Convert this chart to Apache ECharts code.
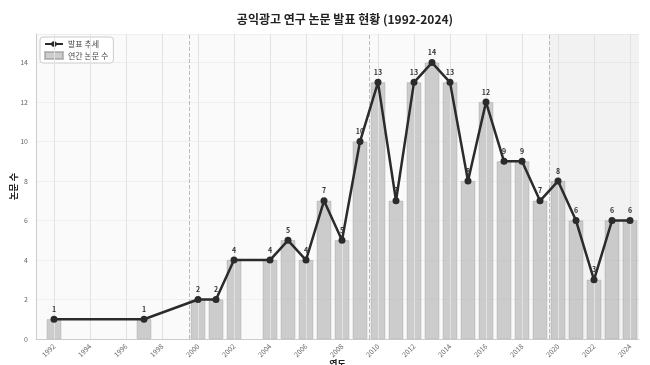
<!DOCTYPE html>
<html><head><meta charset="utf-8">
<script src="https://cdn.jsdelivr.net/npm/echarts@6/dist/echarts.min.js"></script>
<style>html,body{margin:0;padding:0;background:#fff}#c{width:650px;height:365px}</style>
</head><body><div id="c"></div>
<script>
const years = [1992,1997,2000,2001,2002,2004,2005,2006,2007,2008,2009,2010,2011,2012,2013,2014,2015,2016,2017,2018,2019,2020,2021,2022,2023,2024];
const counts = [1,1,2,2,4,4,5,4,7,5,10,13,7,13,14,13,8,12,9,9,7,8,6,3,6,6];
const decadeBreaks = [1999.5, 2009.5, 2019.5];
const xTicks = [1992,1994,1996,1998,2000,2002,2004,2006,2008,2010,2012,2014,2016,2018,2020,2022,2024];
const yTicks = [0,2,4,6,8,10,12,14];

const pts = years.map((y,i)=>[y,counts[i]]);
const font = '"Noto Sans CJK KR", "Noto Sans", sans-serif';
const chart = echarts.init(document.getElementById('c'));
chart.setOption({
  animation:false,
  textStyle:{fontFamily:font},
  title:{text:'공익광고 연구 논문 발표 현황 (1992-2024)',left:340,top:8,textAlign:'center',
    textStyle:{fontSize:12,fontWeight:'bold',color:'#222',fontFamily:font}},
  legend:{left:40,top:37,orient:'vertical',itemGap:3,itemWidth:18,itemHeight:7,
    backgroundColor:'rgba(255,255,255,0.9)',borderColor:'#ccc',borderWidth:1,borderRadius:3,padding:[3,5,3,4],
    textStyle:{fontSize:8,color:'#444'},
    data:[{name:'발표 추세'},{name:'연간 논문 수',icon:'rect'}]},
  grid:{left:36,right:11,top:34,bottom:26,backgroundColor:'#fafafa',show:true,borderWidth:0,
    containLabel:false,outerBoundsMode:'none'},
  xAxis:{type:'value',min:1991,max:2024.5,
    name:'연도',nameLocation:'middle',nameGap:20,nameMoveOverlap:false,nameTextStyle:{fontSize:9,fontWeight:'bold',color:'#222',verticalAlign:'top'},
    axisLine:{show:true,lineStyle:{color:'#ccc'}},axisTick:{show:false,customValues:xTicks},
    axisLabel:{rotate:45,fontSize:7,color:'#666',margin:6,customValues:xTicks,formatter:v=>String(v)},
    splitLine:{show:false}},
  yAxis:{type:'value',min:0,max:15.45,interval:2,
    name:'논문 수',nameLocation:'middle',nameGap:18,nameMoveOverlap:false,nameRotate:90,nameTextStyle:{fontSize:9,fontWeight:'bold',color:'#222'},
    axisLine:{show:true,lineStyle:{color:'#ccc'}},axisTick:{show:false},
    axisLabel:{fontSize:7,color:'#666',margin:8,showMaxLabel:false,formatter:v=>yTicks.includes(v)?String(v):''},
    splitLine:{show:true,lineStyle:{color:'#efefef'}}},
  series:[
    {name:'연간 논문 수',type:'bar',data:pts,barWidth:14.5,z:2,
      itemStyle:{color:'rgba(180,180,180,0.65)',borderColor:'rgba(150,150,150,0.6)',borderWidth:0.6},
      markArea:{silent:true,itemStyle:{color:'rgba(0,0,0,0.03)'},data:[[{xAxis:2019.5},{xAxis:2024.5}]]},
      markLine:{silent:true,symbol:'none',label:{show:false},
        data:decadeBreaks.map(v=>({xAxis:v,lineStyle:{color:'#bbb',type:'dashed',width:1}}))
          .concat(xTicks.map(v=>({xAxis:v,lineStyle:{color:'#e2e2e2',type:'solid',width:1}})))}},
    {name:'발표 추세',type:'line',data:pts,z:5,symbol:'circle',symbolSize:7,
      lineStyle:{color:'#2b2b2b',width:2.5},itemStyle:{color:'#2b2b2b'},
      label:{show:true,position:'top',distance:3,fontSize:7,fontWeight:'bold',color:'#333'}}
  ]
});
</script></body></html>
